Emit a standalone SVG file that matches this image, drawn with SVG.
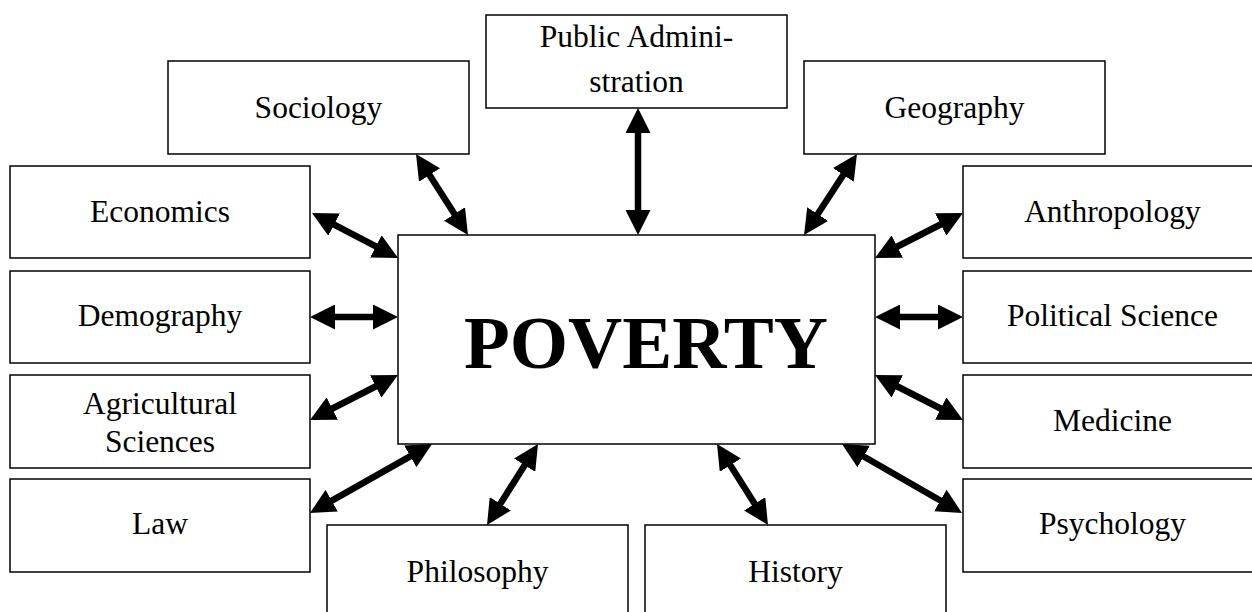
<svg xmlns="http://www.w3.org/2000/svg" width="1252" height="612" viewBox="0 0 1252 612">
<defs>
<style>
.box{fill:#fff;stroke:#000;stroke-width:1.5}
text{font-family:"Liberation Serif","Times New Roman",serif;font-size:31.5px;fill:#000;text-anchor:middle}
.big{font-size:75px;font-weight:bold}
.c line{stroke:#000;stroke-width:6.5;marker-start:url(#ah);marker-end:url(#ah)}
</style>
<marker id="ah" markerUnits="userSpaceOnUse" viewBox="0 0 25 25" markerWidth="25" markerHeight="25" refX="13" refY="12.5" orient="auto-start-reverse">
<path d="M0,0 L25,12.5 L0,25 z" fill="#000"/>
</marker>
</defs>
<rect width="1252" height="612" fill="#fff"/>
<g class="c" id="connectors">
<line x1="422.5" y1="164.1" x2="461.5" y2="224.9"/>
<line x1="638" y1="120" x2="638" y2="223"/>
<line x1="850.4" y1="164" x2="810.6" y2="225"/>
<line x1="322.6" y1="218.6" x2="387.4" y2="252.4"/>
<line x1="322" y1="317" x2="386" y2="317"/>
<line x1="320.7" y1="414.5" x2="387.3" y2="380.5"/>
<line x1="320.4" y1="507.1" x2="421.6" y2="449.9"/>
<line x1="493.4" y1="514.8" x2="531.6" y2="454.2"/>
<line x1="761.6" y1="514.8" x2="723.4" y2="454.2"/>
<line x1="951.6" y1="507" x2="852.4" y2="450"/>
<line x1="952.3" y1="414.5" x2="885.7" y2="380.5"/>
<line x1="951" y1="317" x2="887" y2="317"/>
<line x1="952.3" y1="218.5" x2="885.7" y2="252.5"/>
</g>
<g id="poverty"><rect class="box" x="398" y="235" width="477" height="209"/><text class="big" x="646" y="368">POVERTY</text></g>
<g id="sociology"><rect class="box" x="168" y="61" width="301" height="93"/><text x="318.5" y="118">Sociology</text></g>
<g id="public-administration"><rect class="box" x="486" y="15" width="301" height="93"/><text x="636.5" y="47">Public Admini-</text><text x="636.5" y="92">stration</text></g>
<g id="geography"><rect class="box" x="804" y="61" width="301" height="93"/><text x="954.5" y="118">Geography</text></g>
<g id="economics"><rect class="box" x="10" y="166" width="300" height="92"/><text x="160" y="222">Economics</text></g>
<g id="demography"><rect class="box" x="10" y="271" width="300" height="92"/><text x="160" y="326">Demography</text></g>
<g id="agricultural-sciences"><rect class="box" x="10" y="375" width="300" height="93"/><text x="160" y="414">Agricultural</text><text x="160" y="452">Sciences</text></g>
<g id="law"><rect class="box" x="10" y="479" width="300" height="93"/><text x="160" y="534">Law</text></g>
<g id="anthropology"><rect class="box" x="963" y="166" width="300" height="92"/><text x="1112.5" y="222">Anthropology</text></g>
<g id="political-science"><rect class="box" x="963" y="271" width="300" height="92"/><text x="1112.5" y="326">Political Science</text></g>
<g id="medicine"><rect class="box" x="963" y="375" width="300" height="93"/><text x="1112.5" y="431">Medicine</text></g>
<g id="psychology"><rect class="box" x="963" y="479" width="300" height="93"/><text x="1112.5" y="534">Psychology</text></g>
<g id="philosophy"><rect class="box" x="327" y="525" width="301" height="100"/><text x="477.5" y="582">Philosophy</text></g>
<g id="history"><rect class="box" x="645" y="525" width="301" height="100"/><text x="795.5" y="582">History</text></g>
</svg>
